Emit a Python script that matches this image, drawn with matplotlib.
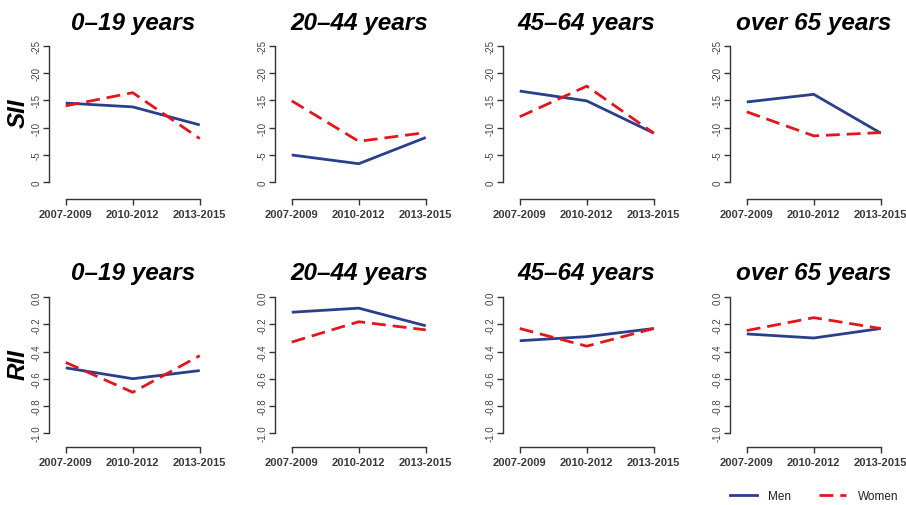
import matplotlib
matplotlib.use('Agg')
import matplotlib.pyplot as plt
from matplotlib import transforms
from matplotlib.lines import Line2D

plt.rcParams['font.family'] = ['Liberation Sans', 'DejaVu Sans']
plt.rcParams['axes.unicode_minus'] = False

# data
periods = ['2007-2009', '2010-2012', '2013-2015']
groups = ['0\u201319 years', '20\u201344 years', '45\u201364 years', 'over 65 years']

sii_men = [[-14.5, -13.8, -10.5],
           [-5.0, -3.4, -8.2],
           [-16.7, -14.9, -9.0],
           [-14.7, -16.1, -9.0]]
sii_women = [[-14.0, -16.4, -8.0],
             [-14.9, -7.5, -9.1],
             [-12.0, -17.6, -9.0],
             [-12.9, -8.5, -9.1]]
rii_men = [[-0.52, -0.60, -0.54],
           [-0.11, -0.08, -0.21],
           [-0.32, -0.29, -0.23],
           [-0.27, -0.30, -0.23]]
rii_women = [[-0.48, -0.70, -0.43],
             [-0.33, -0.18, -0.24],
             [-0.23, -0.36, -0.23],
             [-0.245, -0.15, -0.23]]

sii_ticks = [0, -5, -10, -15, -20, -25]
rii_ticks = [0.0, -0.2, -0.4, -0.6, -0.8, -1.0]

BLUE = '#2a3f8c'
RED = '#e3161d'
AXC = '#333333'

W, H = 906, 506
fig = plt.figure(figsize=(W / 100, H / 100), dpi=100)


def px_axes(left, top, right, bottom):
    return fig.add_axes([left / W, 1 - bottom / H, (right - left) / W, (bottom - top) / H])


lefts = [49, 275, 503, 730]
ppu = 67.0  # pixels per x unit
xlo, xhi = 0.75, 3.1

rows = [
    dict(men=sii_men, women=sii_women, ticks=sii_ticks, fmt='{:d}', label='SII',
         top=40, zero=183.3, end=46.7, bottom=200, title_base=30, lab_y=113),
    dict(men=rii_men, women=rii_women, ticks=rii_ticks, fmt='{:.1f}', label='RII',
         top=290, zero=298.3, end=434, bottom=448.3, title_base=280, lab_y=365),
]

x = [1, 2, 3]
for r, row in enumerate(rows):
    t_end = row['ticks'][-1]
    scale = abs((row['end'] - row['zero']) / t_end)  # px per unit
    if r == 0:
        # 0 at bottom, -25 at top
        y_bottom = (row['bottom'] - row['zero']) / scale
        y_top = t_end - (row['end'] - row['top']) / scale
    else:
        y_bottom = t_end - (row['bottom'] - row['end']) / scale
        y_top = (row['zero'] - row['top']) / scale
    for c in range(4):
        left = lefts[c]
        ax = px_axes(left, row['top'], left + (xhi - xlo) * ppu, row['bottom'])
        ax.plot(x, row['men'][c], color=BLUE, lw=2.0, solid_capstyle='butt')
        ax.plot(x, row['women'][c], color=RED, lw=2.0, dashes=(5, 2.5))
        ax.set_xlim(xlo, xhi)
        ax.set_ylim(y_bottom, y_top)
        for s in ['top', 'right']:
            ax.spines[s].set_visible(False)
        ax.spines['left'].set_bounds(min(row['ticks']), max(row['ticks']))
        ax.spines['bottom'].set_bounds(1, 3)
        for s in ['left', 'bottom']:
            ax.spines[s].set_color(AXC)
            ax.spines[s].set_linewidth(1.0)
        ax.set_xticks(x)
        ax.set_xticklabels(periods, fontsize=8, fontweight='bold', color='#3a3a3a')
        ax.set_yticks(row['ticks'])
        ax.set_yticklabels([row['fmt'].format(v) for v in row['ticks']],
                           fontsize=7, color='#444444', rotation=90, va='center')
        ax.tick_params(axis='both', color=AXC, width=1.0, length=4)
        ax.tick_params(axis='x', pad=3)
        ax.tick_params(axis='y', pad=1)
        tr = transforms.blended_transform_factory(ax.transData, fig.transFigure)
        ax.text(2, 1 - row['title_base'] / H, groups[c], transform=tr,
                ha='center', va='baseline', fontsize=17.5, fontweight='bold',
                fontstyle='italic', color='black')
    fig.text(18 / W, 1 - row['lab_y'] / H, row['label'], rotation=90,
             ha='center', va='center', fontsize=17.5, fontweight='bold',
             fontstyle='italic', color='black')

handles = [Line2D([], [], color=BLUE, lw=2.0),
           Line2D([], [], color=RED, lw=2.0, dashes=(5, 2.5))]
fig.legend(handles, ['Men', 'Women'], loc='center left',
           bbox_to_anchor=(719 / W, 1 - 497 / H), ncol=2, frameon=False,
           fontsize=8.5, handlelength=2.3, handletextpad=0.95, columnspacing=2.4,
           labelcolor='#222222')

fig.savefig('out.png', dpi=100)
